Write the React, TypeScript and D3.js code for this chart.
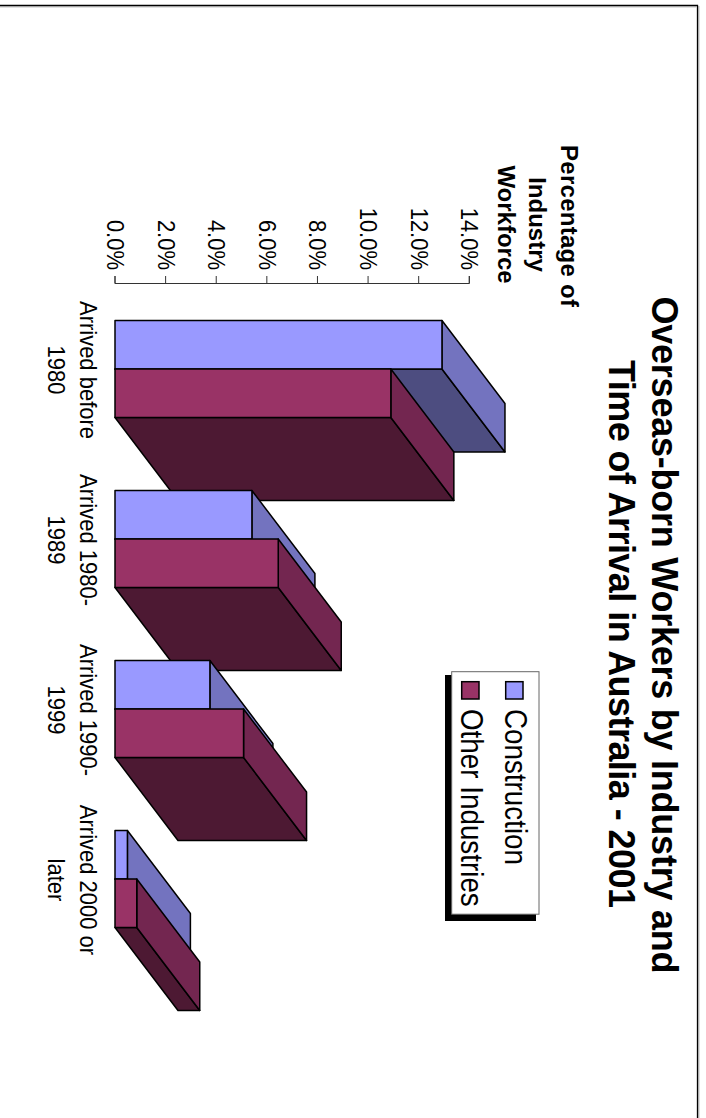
import React from "react";
import * as d3 from "d3";

const categories = [["Arrived before", "1980"], ["Arrived 1980-", "1989"], ["Arrived 1990-", "1999"], ["Arrived 2000 or", "later"]];
const seriesNames = ["Construction", "Other Industries"];
const construction = [12.92, 5.41, 3.75, 0.49];
const otherIndustries = [10.9, 6.45, 5.08, 0.86];
const ticks = [0, 2, 4, 6, 8, 10, 12, 14];
const titleLines = ["Overseas-born Workers by Industry and", "Time of Arrival in Australia - 2001"];
const axisTitleLines = ["Percentage of", "Industry", "Workforce"];
const palette = [
  { front: "#9999FF", side: "#7373BF", under: "#4D4D80" },
  { front: "#993366", side: "#732650", under: "#4D1933" },
];

const FONT = "'Liberation Sans', Arial, sans-serif";
const DX = 63;
const DY = 83;

const x = d3.scaleLinear().domain([0, 14]).range([115, 469.3]);
const yGroup = d3.scaleBand<number>().domain(d3.range(categories.length)).range([284, 964]).paddingInner(0.43).paddingOuter(0.215);
const ySeries = d3.scaleBand<number>().domain([0, 1]).range([0, yGroup.bandwidth()]);
const poly = (pts: [number, number][]) => d3.line()(pts)! + "Z";

function VText({ x, y, size, bold, anchor, children, sy = 1.08, len }: any) {
  return (
    <text
      transform={`translate(${x},${y}) rotate(90) scale(1,${sy})`}
      fontFamily={FONT}
      fontSize={size}
      fontWeight={bold ? 700 : 400}
      textAnchor={anchor || "middle"}
      textLength={len}
      lengthAdjust={len ? "spacing" : undefined}
      fill="#000"
    >
      {children}
    </text>
  );
}

function Bar({ i, s, v }: { i: number; s: number; v: number }) {
  const c = palette[s];
  const x0 = x(0);
  const x1 = x(v);
  const y0 = yGroup(i)! + ySeries(s)!;
  const y1 = y0 + ySeries.bandwidth();
  const st = { stroke: "#000", strokeWidth: 1.5, strokeLinejoin: "round" as const };
  return (
    <g>
      <path d={poly([[x0, y1], [x1, y1], [x1 + DX, y1 + DY], [x0 + DX, y1 + DY]])} fill={c.under} {...st} />
      <path d={poly([[x1, y0], [x1 + DX, y0 + DY], [x1 + DX, y1 + DY], [x1, y1]])} fill={c.side} {...st} />
      <rect x={x0} y={y0} width={x1 - x0} height={y1 - y0} fill={c.front} {...st} />
    </g>
  );
}

export default function App() {
  return (
    <svg width={706} height={1118} style={{ position: "absolute", left: 0, top: 0, display: "block", background: "#fff" }}>
      <path d="M0,5.5H697.5V1118" fill="none" stroke="#000" strokeWidth={1.3} />
      <path d="M0,6.8H696.2" fill="none" stroke="#999" strokeWidth={1} />
      <path d="M698.8,6V1118" fill="none" stroke="#999" strokeWidth={1} />

      {titleLines.map((t, i) => (
        <VText key={t} x={652 - i * 43.5} y={i === 0 ? 635 : 634} size={36} bold sy={1} len={i === 0 ? 677 : 548}>{t}</VText>
      ))}
      {axisTitleLines.map((t, i) => (
        <VText key={t} x={560.5 - i * 31.3} y={i === 0 ? 226 : 224.5} size={24} bold sy={1} len={i === 0 ? 162 : undefined}>{t}</VText>
      ))}

      <path d={`M${x(0)},276V283.5H${x(14)}V276`} fill="none" stroke="#333" strokeWidth={1} />
      {ticks.map((t) => (
        <g key={t}>
          <line x1={x(t)} x2={x(t)} y1={276} y2={283.5} stroke="#333" strokeWidth={1} />
          <VText x={x(t) - 8} y={270} size={22} anchor="end">{t.toFixed(1)}%</VText>
        </g>
      ))}

      {categories.map((lines, i) => {
        const cy = yGroup(i)! + yGroup.bandwidth() / 2;
        return (
          <g key={i}>
            <Bar i={i} s={0} v={construction[i]} />
            <Bar i={i} s={1} v={otherIndustries[i]} />
            {lines.map((l, j) => (
              <VText key={l} x={80 - j * 32} y={cy + 1} size={22}>{l}</VText>
            ))}
          </g>
        );
      })}

      <rect x={445} y={675} width={91} height={246} fill="#000" />
      <rect x={451.7} y={671.7} width={87.3} height={242.5} fill="#fff" stroke="#666" strokeWidth={1} />
      {seriesNames.map((n, i) => {
        const bx = 505.7 - i * 44;
        return (
          <g key={n}>
            <rect x={bx} y={681.7} width={17.3} height={17.3} fill={palette[i].front} stroke="#000" strokeWidth={1.5} />
            <VText x={bx - 1} y={709} size={27.8} anchor="start" sy={1.1}>{n}</VText>
          </g>
        );
      })}
    </svg>
  );
}
